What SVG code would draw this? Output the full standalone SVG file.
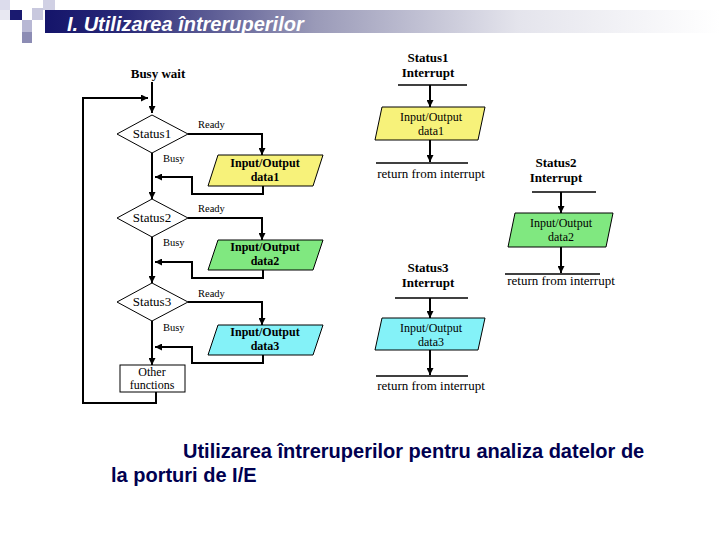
<svg xmlns="http://www.w3.org/2000/svg" width="720" height="540" viewBox="0 0 720 540">
<defs>
<linearGradient id="bar" x1="0" y1="0" x2="1" y2="0">
<stop offset="0" stop-color="#14146a"/>
<stop offset="0.12" stop-color="#2a2a78"/>
<stop offset="0.4" stop-color="#9a9ab8"/>
<stop offset="0.7" stop-color="#e4e4ec"/>
<stop offset="1" stop-color="#ffffff"/>
</linearGradient>
<marker id="ah" viewBox="0 0 10 10" refX="10" refY="5" markerWidth="7" markerHeight="7" markerUnits="userSpaceOnUse" orient="auto">
<path d="M0,0 L10,5 L0,10 Z" fill="#000"/>
</marker>
<style>
.ln{fill:none;stroke:#000;stroke-width:2}
.lt{fill:none;stroke:#000;stroke-width:1.5}
.shape{stroke:#000;stroke-width:1}
.t{font-family:"Liberation Serif","Times New Roman",serif;font-size:13px;fill:#000;text-anchor:middle}
.s{font-size:12px}
.b{font-weight:bold}
.lbl{font-family:"Liberation Serif","Times New Roman",serif;font-size:10.5px;fill:#000}
.cap{font-family:"Liberation Sans",Arial,sans-serif;font-size:20px;font-weight:bold;fill:#000050}
</style>
</defs>
<rect width="720" height="540" fill="#fff"/>
<g id="header">
<rect x="45" y="10" width="675" height="23" fill="url(#bar)"/>
<rect x="0" y="0" width="10" height="10" fill="#dcdcec"/>
<rect x="0" y="10" width="10" height="10" fill="#e8e8f2"/>
<rect x="43" y="0" width="12" height="10" fill="#d0d0e4"/>
<rect x="10" y="10" width="12" height="10" fill="#1a1a70"/>
<rect x="32" y="8" width="11" height="12" fill="#c8c8de"/>
<rect x="22" y="20" width="10" height="12" fill="#b8b8d4"/>
<rect x="22" y="32" width="10" height="11" fill="#8c8cb4"/>
<text x="67" y="31" font-family="Liberation Sans,Arial,sans-serif" font-size="20" font-weight="bold" font-style="italic" fill="#fff">I. Utilizarea întreruperilor</text>
</g>
<g id="connectors">
<path class="ln" d="M152,82 V113" marker-end="url(#ah)"/>
<path class="ln" d="M156,392 V403 H83 V98 H148" marker-end="url(#ah)"/>
<path class="ln" d="M188,134 H262 V155" marker-end="url(#ah)"/>
<path class="ln" d="M263,186 V194 H192 V177 H155" marker-end="url(#ah)"/>
<path class="ln" d="M152,153 V199" marker-end="url(#ah)"/>
<path class="ln" d="M188,218 H262 V240" marker-end="url(#ah)"/>
<path class="ln" d="M263,270 V278 H192 V262 H155" marker-end="url(#ah)"/>
<path class="ln" d="M152,237 V283" marker-end="url(#ah)"/>
<path class="ln" d="M188,302 H262 V325" marker-end="url(#ah)"/>
<path class="ln" d="M263,355 V363 H192 V347 H155" marker-end="url(#ah)"/>
<path class="ln" d="M152,321 V365" marker-end="url(#ah)"/>
<path class="lt" d="M398,85 H467"/>
<path class="ln" d="M430,85 V107" marker-end="url(#ah)"/>
<path class="ln" d="M430,140 V162" marker-end="url(#ah)"/>
<path class="lt" d="M376,163 H468"/>
<path class="lt" d="M532,192 H596"/>
<path class="ln" d="M561,192 V213" marker-end="url(#ah)"/>
<path class="ln" d="M561,247 V273" marker-end="url(#ah)"/>
<path class="lt" d="M505,274 H600"/>
<path class="lt" d="M395,298 H468"/>
<path class="ln" d="M430,298 V318" marker-end="url(#ah)"/>
<path class="ln" d="M430,350 V375" marker-end="url(#ah)"/>
<path class="lt" d="M376,376 H468"/>
</g>
<g id="busywait"><text class="t b" x="158" y="78">Busy wait</text></g>
<g id="status1">
<polygon class="shape" points="152,115 188,134 152,153 117,134" fill="#fff"/>
<text class="t" x="152" y="138">Status1</text>
<text class="lbl" x="198" y="128">Ready</text>
<text class="lbl" x="163" y="162">Busy</text>
</g>
<g id="io1">
<polygon class="shape" points="218,155 323,155 313,186 208,186" fill="#f7f27a"/>
<text class="t s b" x="265" y="167">Input/Output</text>
<text class="t s b" x="265" y="181">data1</text>
</g>
<g id="status2">
<polygon class="shape" points="152,199 188,218 152,237 117,218" fill="#fff"/>
<text class="t" x="152" y="222">Status2</text>
<text class="lbl" x="198" y="212">Ready</text>
<text class="lbl" x="163" y="246">Busy</text>
</g>
<g id="io2">
<polygon class="shape" points="218,240 323,240 313,270 208,270" fill="#80e880"/>
<text class="t s b" x="265" y="251">Input/Output</text>
<text class="t s b" x="265" y="265">data2</text>
</g>
<g id="status3">
<polygon class="shape" points="152,283 188,302 152,321 117,302" fill="#fff"/>
<text class="t" x="152" y="306">Status3</text>
<text class="lbl" x="198" y="297">Ready</text>
<text class="lbl" x="163" y="331">Busy</text>
</g>
<g id="io3">
<polygon class="shape" points="218,325 323,325 313,355 208,355" fill="#84f2f8"/>
<text class="t s b" x="265" y="336">Input/Output</text>
<text class="t s b" x="265" y="350">data3</text>
</g>
<g id="other">
<rect class="shape" x="120" y="365" width="65" height="27" fill="#fff"/>
<text class="t s" x="152" y="376">Other</text>
<text class="t s" x="152" y="389">functions</text>
</g>
<g id="int1">
<text class="t b" x="428" y="62">Status1</text>
<text class="t b" x="428" y="77">Interrupt</text>
<polygon class="shape" points="382,107 485,107 478,140 375,140" fill="#f7f27a"/>
<text class="t s" x="431" y="121">Input/Output</text>
<text class="t s" x="431" y="135">data1</text>
<text class="t" x="431" y="178">return from interrupt</text>
</g>
<g id="int2">
<text class="t b" x="556" y="167">Status2</text>
<text class="t b" x="556" y="182">Interrupt</text>
<polygon class="shape" points="515,213 613,213 606,247 508,247" fill="#80e880"/>
<text class="t s" x="561" y="227">Input/Output</text>
<text class="t s" x="561" y="241">data2</text>
<text class="t" x="561" y="285">return from interrupt</text>
</g>
<g id="int3">
<text class="t b" x="428" y="272">Status3</text>
<text class="t b" x="428" y="287">Interrupt</text>
<polygon class="shape" points="382,318 485,318 478,350 375,350" fill="#84f2f8"/>
<text class="t s" x="431" y="332">Input/Output</text>
<text class="t s" x="431" y="346">data3</text>
<text class="t" x="431" y="390">return from interrupt</text>
</g>
<g id="caption">
<text class="cap" x="183" y="458">Utilizarea întreruperilor pentru analiza datelor de</text>
<text class="cap" x="111" y="482">la porturi de I/E</text>
</g>
</svg>
